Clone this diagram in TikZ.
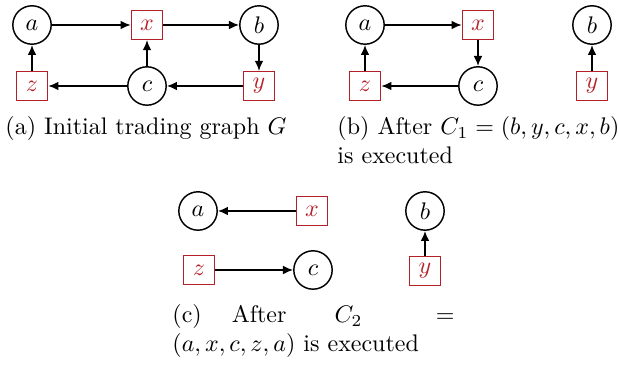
\documentclass[tikz,border=0pt]{standalone}
\usetikzlibrary{arrows.meta}
\definecolor{boxred}{RGB}{180,32,40}
\begin{document}
\begin{tikzpicture}[x=0.41667pt,y=-0.41667pt,
  agent/.style={circle,draw,semithick,minimum size=16pt,inner sep=0pt},
  item/.style={rectangle,draw=boxred,semithick,text=boxred,minimum width=13pt,minimum height=12pt,inner sep=0pt},
  edge/.style={semithick,-{Latex[length=4.2pt,width=3.6pt]}},
  captxt/.style={anchor=base west,inner sep=0pt,text width=117.5pt,align=justify}]
\useasboundingbox (0,0) rectangle (619,368);
% (a)
\node[agent] (a1) at (32,25) {$a$};
\node[item]  (x1) at (147,25) {$x$};
\node[agent] (b1) at (259,25) {$b$};
\node[item]  (z1) at (32,86) {$z$};
\node[agent] (c1) at (147,86) {$c$};
\node[item]  (y1) at (259,86) {$y$};
\draw[edge] (a1) -- (x1);
\draw[edge] (x1) -- (b1);
\draw[edge] (b1) -- (y1);
\draw[edge] (y1) -- (c1);
\draw[edge] (c1) -- (z1);
\draw[edge] (z1) -- (a1);
\draw[edge] (c1) -- (x1);
\node[captxt] (capa) at (5,135) {(a) Initial trading graph $G$};
% (b)
\node[agent] (a2) at (365,25) {$a$};
\node[item]  (x2) at (478,25) {$x$};
\node[agent] (b2) at (592,25) {$b$};
\node[item]  (z2) at (365,86) {$z$};
\node[agent] (c2) at (478,86) {$c$};
\node[item]  (y2) at (592,86) {$y$};
\draw[edge] (a2) -- (x2);
\draw[edge] (x2) -- (c2);
\draw[edge] (c2) -- (z2);
\draw[edge] (z2) -- (a2);
\draw[edge] (y2) -- (b2);
\node[captxt] (capb) at (337,135) {(b) After $C_1 = (b, y, c, x, b)$ is executed};
% (c)
\node[agent] (a3) at (198,211) {$a$};
\node[item]  (x3) at (312,211) {$x$};
\node[agent] (b3) at (425,211) {$b$};
\node[item]  (z3) at (199,270) {$z$};
\node[agent] (c3) at (313,270) {$c$};
\node[item]  (y3) at (425,271) {$y$};
\draw[edge] (x3) -- (a3);
\draw[edge] (z3) -- (c3);
\draw[edge] (y3) -- (b3);
\node[captxt] (capc) at (172,323) {(c)\hspace{12.5pt}After $C_2 =$\linebreak $(a, x, c, z, a)$ is executed};
\end{tikzpicture}
\end{document}
